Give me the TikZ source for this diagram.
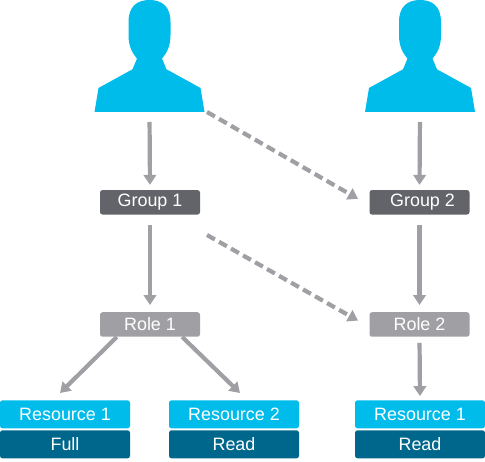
\documentclass[tikz,border=0pt]{standalone}
\usepackage{fontspec}
\setmainfont{Liberation Sans}
\usetikzlibrary{arrows.meta}
\definecolor{userblue}{HTML}{00BCEB}
\definecolor{accessblue}{HTML}{00678C}
\definecolor{groupgray}{HTML}{636469}
\definecolor{rolegray}{HTML}{A0A0A4}
\tikzset{
    label-box/.style = {rectangle, rounded corners=2.5pt, text=white, inner sep=0pt, font=\fontsize{17.9}{20}\selectfont},
    group-box/.style = {label-box, fill=groupgray, minimum width=100pt, minimum height=24.5pt},
    role-box/.style = {label-box, fill=rolegray, minimum width=100pt, minimum height=24.5pt},
    resource-box/.style = {label-box, fill=userblue, minimum width=130pt, minimum height=28pt},
    access-box/.style = {label-box, fill=accessblue, minimum width=130pt, minimum height=28pt},
    link/.style = {draw=rolegray, line width=4.2pt, -{Triangle[length=10pt,width=12.5pt]}},
    dashed-link/.style = {link, dash pattern=on 9pt off 4.8pt},
    person/.pic = {
        \fill[userblue] (-55,112) -- (-51,88) -- (-17,69.3) -- (-12.5,58.7)
            .. controls (-17,53) and (-21,47) .. (-21,35) -- (-21,22)
            .. controls (-21,7) and (-13,0) .. (0,0)
            .. controls (13,0) and (21,7) .. (21,22) -- (21,35)
            .. controls (21,47) and (17,53) .. (12.5,58.7)
            -- (17,69.3) -- (51,88) -- (55,112) -- cycle;
        \coordinate (-base) at (0,112);
    },
}
\begin{document}
\begin{tikzpicture}[x=1pt,y=-1pt]
\useasboundingbox (0,0) rectangle (485,462);
\pic (user1) at (149.5,0) {person};
\pic (user2) at (420,0) {person};
\node[group-box] (group1) at (150,202.3) {Group 1};
\node[group-box] (group2) at (419.5,202.3) {\hspace{6pt}Group 2};
\node[role-box] (role1) at (150,324.5) {Role 1\hspace{4pt}};
\node[role-box] (role2) at (419.5,324.5) {Role 2\hspace{4pt}};
\node[resource-box] (res1) at (65,414.3) {Resource 1};
\node[access-box] (full1) at (65,444.3) {Full};
\node[resource-box] (res2) at (234,414.3) {Resource 2};
\node[access-box] (read2) at (234,444.3) {Read};
\node[resource-box] (res3) at (420,414.3) {Resource 1};
\node[access-box] (read3) at (420,444.3) {Read};
\coordinate (dash1) at (207,112);
\coordinate (dash2) at (207,235);
\coordinate (tip1) at (60,393);
\coordinate (tip2) at (240,393);
\draw[link, shorten <=10pt, shorten >=5pt] (user1-base) -- (group1.north);
\draw[link, shorten <=10pt, shorten >=5pt] (user2-base) -- (group2.north);
\draw[link, shorten <=10pt, shorten >=7pt] (group1.south) -- (role1.north);
\draw[link, shorten <=10pt, shorten >=7pt] (group2.south) -- (role2.north);
\draw[link] ([xshift=17pt]role1.south west) -- (tip1);
\draw[link] ([xshift=-18pt]role1.south east) -- (tip2);
\draw[link, shorten <=6pt, shorten >=4pt] (role2.south) -- (res3.north);
\draw[dashed-link, shorten >=13pt] (dash1) -- ([yshift=-3pt]group2.west);
\draw[dashed-link, shorten >=13pt] (dash2) -- ([yshift=-2.5pt]role2.west);
\end{tikzpicture}
\end{document}
